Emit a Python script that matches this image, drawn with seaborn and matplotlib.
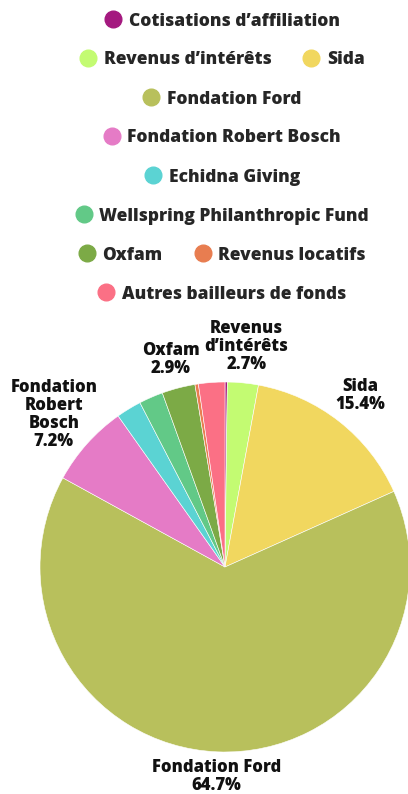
import matplotlib
matplotlib.use("Agg")
import matplotlib.pyplot as plt
from matplotlib.lines import Line2D
import numpy as np
import seaborn as sns

sns.set_theme(style="white")
plt.rcParams['font.family'] = ['Open Sans', 'DejaVu Sans']

# Données (sens horaire à partir de midi)
sources = ["Cotisations d\u2019affiliation", "Revenus d\u2019intérêts", "Sida",
           "Fondation Ford", "Fondation Robert Bosch", "Echidna Giving",
           "Wellspring Philanthropic Fund", "Oxfam", "Revenus locatifs",
           "Autres bailleurs de fonds"]
parts = [0.2, 2.7, 15.4, 64.7, 7.2, 2.2, 2.1, 2.9, 0.3, 2.3]
colors = ["#a4197f", "#c3fb72", "#f1d75f", "#b8c05c", "#e57bc6",
          "#5bd3d3", "#62c987", "#7caa46", "#e87d50", "#fb7085"]
slice_labels = {1: "Revenus\nd\u2019intérêts", 2: "Sida", 3: "Fondation Ford",
                4: "Fondation\nRobert\nBosch", 7: "Oxfam"}
label_dist = {1: 1.2, 2: 1.18, 3: 1.135, 4: 1.24, 7: 1.16}
legend_rows = [[0], [1, 2], [3], [4], [5], [6], [7, 8], [9]]

fig = plt.figure(figsize=(4.08, 7.94), dpi=100)
ax = fig.add_axes([0, 0, 1, 1])

wedges, _ = ax.pie(parts, colors=colors, startangle=90, counterclock=False,
                   wedgeprops=dict(edgecolor="white", linewidth=0.4))

total = sum(parts)
for i, txt in slice_labels.items():
    w = wedges[i]
    mid = np.deg2rad((w.theta1 + w.theta2) / 2)
    r = label_dist[i]
    ax.text(r * np.cos(mid), r * np.sin(mid),
            f"{txt}\n{parts[i] / total * 100:.1f}%",
            ha="center", va="center", fontsize=12, fontweight="heavy",
            color="#111111", linespacing=1.08)

# centre du camembert à (225, 567) px, rayon 185 px
ax.set_xlim(-225 / 185, (408 - 225) / 185)
ax.set_ylim((567 - 794) / 185, 567 / 185)
ax.set_aspect("auto")
ax.axis("off")

# Légende en lignes centrées
for k, row in enumerate(legend_rows):
    handles = [Line2D([], [], marker="o", linestyle="", markersize=12,
                      markerfacecolor=colors[i], markeredgecolor=colors[i])
               for i in row]
    fig.legend(handles, [sources[i] for i in row], ncol=len(row),
               loc="center", bbox_to_anchor=(222 / 408, 1 - (21 + 39 * k) / 794),
               frameon=False, handletextpad=0.4, columnspacing=1.8,
               prop=dict(size=12.5, weight="heavy"), handlelength=1.0)

fig.savefig("out.png", dpi=100)
